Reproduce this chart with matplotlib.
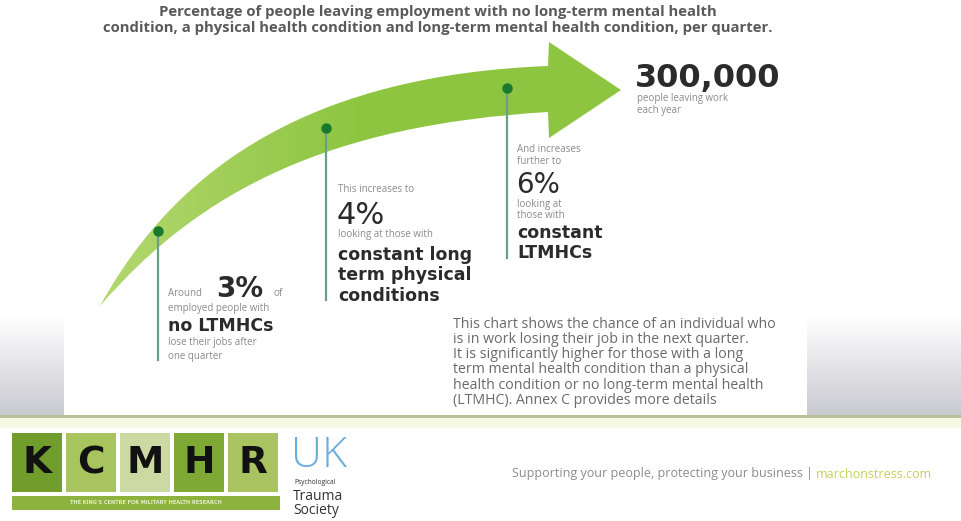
import numpy as np
import matplotlib
matplotlib.use('Agg')
from matplotlib import pyplot as plt
from matplotlib.path import Path
from matplotlib.patches import PathPatch, Rectangle
from matplotlib.colors import LinearSegmentedColormap

# figures shown along the arrow
pct_values = [3, 4, 6]
pct_groups = ['no LTMHCs', 'constant long\nterm physical\nconditions', 'constant\nLTMHCs']
yearly_total = 300000

title_lines = ['Percentage of people leaving employment with no long-term mental health',
               'condition, a physical health condition and long-term mental health condition, per quarter.']
note_lines = ['This chart shows the chance of an individual who',
              'is in work losing their job in the next quarter.',
              'It is significantly higher for those with a long',
              'term mental health condition than a physical',
              'health condition or no long-term mental health',
              '(LTMHC). Annex C provides more details']
logo_letters = ['K', 'C', 'M', 'H', 'R']
logo_colors = ['#719d2c', '#a8c45e', '#ccd9a3', '#7ea934', '#a9c360']

SANS = ['Open Sans', 'DejaVu Sans']
GREY = '#8a8a8a'
DARK = '#2b2b2b'
GREEN = '#8dc540'

fig = plt.figure(figsize=(9.61, 5.21), dpi=100)
ax = fig.add_axes([0, 0, 1, 1])
ax.set_xlim(0, 961)
ax.set_ylim(521, 0)
ax.axis('off')

# grey side panels behind the white card
grey = LinearSegmentedColormap.from_list('g', ['#ffffff', '#c9c9d0'])
grad = np.linspace(0, 1, 100).reshape(-1, 1)
ax.imshow(grad, cmap=grey, extent=(0, 64, 416, 316), aspect='auto', zorder=0)
ax.imshow(grad, cmap=grey, extent=(807, 961, 416, 316), aspect='auto', zorder=0)
ax.add_patch(Rectangle((0, 415), 961, 3, color='#b9bf98', lw=0, zorder=1))
ax.add_patch(Rectangle((0, 418), 961, 10, color='#f6f8e4', lw=0, zorder=1))

# title
for i, line in enumerate(title_lines):
    ax.text(438, 12 + 16 * i, line, ha='center', va='center', fontsize=10.7,
            fontweight='bold', color='#5a5a5a', family=SANS)

# curved arrow
verts = [(100, 306), (180, 160), (320, 75), (548, 66),
         (549, 42), (621, 90), (549, 138), (548, 112),
         (330, 125), (200, 190), (100, 306)]
codes = [Path.MOVETO, Path.CURVE4, Path.CURVE4, Path.CURVE4,
         Path.LINETO, Path.LINETO, Path.LINETO, Path.LINETO,
         Path.CURVE4, Path.CURVE4, Path.CURVE4]
arrow = PathPatch(Path(verts, codes), facecolor='none', edgecolor='none')
ax.add_patch(arrow)
shade = LinearSegmentedColormap.from_list('a', ['#b4d870', GREEN, GREEN])
img = ax.imshow(np.linspace(0, 1, 200).reshape(1, -1), cmap=shade,
                extent=(95, 625, 310, 40), aspect='auto', zorder=2)
img.set_clip_path(arrow)

# markers and their leader lines
dots = [(158, 231, 360), (326, 128, 300), (507, 88, 258)]
for x, y, y_end in dots:
    ax.plot([x, x], [y, y_end], color='#6c9f88', lw=1.6, zorder=3)
    ax.plot(x, y, 'o', color='#187a2c', ms=6.5, zorder=4)

small = dict(fontsize=7, color=GREY, family=SANS, va='center')
bold = dict(fontsize=12.5, color=DARK, fontweight='bold', family='DejaVu Sans', va='center')

# block 1
ax.text(168, 296, 'Around', va='baseline', fontsize=7, color=GREY, family=SANS)
ax.text(216, 297, '%d%%' % pct_values[0], va='baseline', fontsize=20,
        fontweight='bold', color=DARK, family='DejaVu Sans')
ax.text(273, 296, 'of', va='baseline', fontsize=7, color=GREY, family=SANS)
ax.text(168, 309, 'employed people with', **small)
ax.text(168, 326, pct_groups[0], **bold)
ax.text(168, 343, 'lose their jobs after', **small)
ax.text(168, 356, 'one quarter', **small)

# block 2
ax.text(338, 190, 'This increases to', **small)
ax.text(337, 224, '%d%%' % pct_values[1], va='baseline', fontsize=22,
        color=DARK, family='DejaVu Sans')
ax.text(338, 235, 'looking at those with', **small)
for i, line in enumerate(pct_groups[1].split('\n')):
    ax.text(338, 255 + 20.5 * i, line, **bold)

# block 3
ax.text(517, 150, 'And increases', **small)
ax.text(517, 162, 'further to', **small)
ax.text(516, 193, '%d%%' % pct_values[2], va='baseline', fontsize=20,
        color=DARK, family='DejaVu Sans')
ax.text(517, 204, 'looking at', **small)
ax.text(517, 215, 'those with', **small)
for i, line in enumerate(pct_groups[2].split('\n')):
    ax.text(517, 233 + 19.5 * i, line, **bold)

# yearly total
ax.text(635, 87, '{:,}'.format(yearly_total), va='baseline', fontsize=23,
        fontweight='bold', color=DARK, family='DejaVu Sans')
ax.text(637, 98, 'people leaving work', **small)
ax.text(637, 110, 'each year', **small)

# explanatory note
for i, line in enumerate(note_lines):
    ax.text(453, 324 + 15.3 * i, line, fontsize=10.2, color='#6a6a6a',
            family=SANS, va='center')

# KCMHR logo
for i, (letter, col) in enumerate(zip(logo_letters, logo_colors)):
    x0 = 12 + 54 * i
    ax.add_patch(Rectangle((x0, 433), 50, 59, color=col, lw=0, zorder=2))
    ax.text(x0 + 25, 463, letter, ha='center', va='center', fontsize=27,
            fontweight='bold', color='#111111', family='DejaVu Sans', zorder=3)
ax.add_patch(Rectangle((12, 496), 268, 14, color='#8db33e', lw=0, zorder=2))
ax.text(146, 503, "THE KING'S CENTRE FOR MILITARY HEALTH RESEARCH", ha='center',
        va='center', fontsize=3.6, color='#e4efc8', fontweight='bold',
        family='DejaVu Sans', zorder=3)

# trauma society logo
ax.text(291, 456, 'UK', va='center', fontsize=31, color='#6aaedb',
        fontweight='light', family=SANS)
ax.text(294, 482, 'Psychological', va='center', fontsize=4.8, color='#333333', family=SANS)
ax.text(293, 496, 'Trauma', va='center', fontsize=10, color='#333333', family=SANS)
ax.text(293, 511, 'Society', va='center', fontsize=10, color='#333333', family=SANS)

# strapline
t = ax.text(512, 474, 'Supporting your people, protecting your business | ', va='center',
            fontsize=9, color='#8c8c8c', family=SANS)
fig.canvas.draw()
x_end = ax.transData.inverted().transform((t.get_window_extent().x1, 0))[0]
ax.text(x_end, 474, 'marchonstress.com', va='center', fontsize=9,
        color='#c5d05c', family=SANS)

fig.savefig('out.png', dpi=100)
plt.close()
